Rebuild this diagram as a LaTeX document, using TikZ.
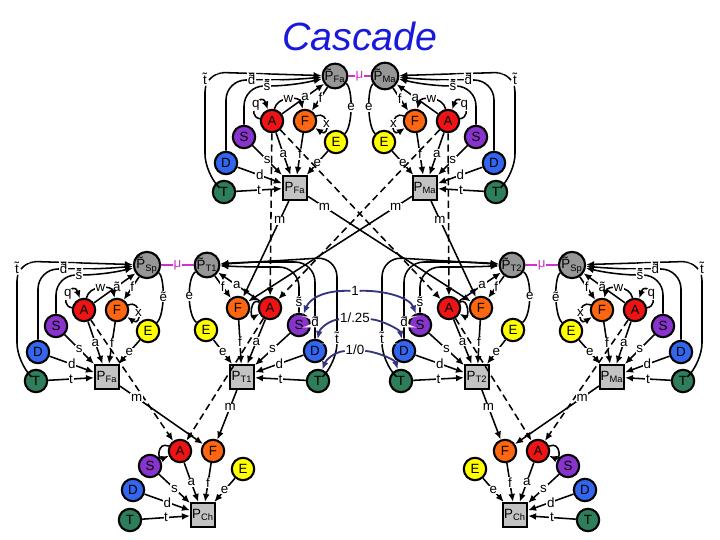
\documentclass[tikz,border=0pt]{standalone}
\usepackage{fontspec}
\setmainfont{Liberation Sans}
\usetikzlibrary{arrows.meta}

\definecolor{nodeA}{RGB}{238,20,20}
\definecolor{nodeF}{RGB}{255,102,17}
\definecolor{nodeS}{RGB}{136,51,204}
\definecolor{nodeE}{RGB}{255,255,0}
\definecolor{nodeD}{RGB}{51,102,238}
\definecolor{nodeT}{RGB}{46,125,91}
\definecolor{pgray}{RGB}{150,150,150}
\definecolor{bgray}{RGB}{195,195,195}
\definecolor{mulink}{RGB}{204,51,204}
\definecolor{navy}{RGB}{51,51,128}
\definecolor{ttl}{RGB}{25,25,220}

\newcommand{\lblfont}{\fontsize{9.5}{10}\selectfont}

\tikzstyle{vertex}=[circle,draw,line width=1.5pt,minimum size=5.6mm,inner sep=0pt,font=\lblfont]
\tikzstyle{pvertex}=[circle,draw,line width=1.5pt,fill=pgray,minimum size=6.2mm,inner sep=0pt,font=\lblfont]
\tikzstyle{pbox}=[rectangle,draw,line width=1.5pt,fill=bgray,minimum size=6mm,inner sep=0pt,font=\lblfont]
\tikzstyle{arr}=[-{Latex[length=2mm,width=1.7mm]},line width=1.1pt]
\tikzstyle{plainline}=[line width=1.1pt]
\tikzstyle{dlink}=[arr,dash pattern=on 5pt off 3pt]
\tikzstyle{mate}=[mulink,line width=1.5pt]
\tikzstyle{warr}=[-{Latex[length=2mm,width=1.7mm]},navy,line width=1.3pt]
\tikzstyle{lbl}=[fill=white,inner sep=0.5pt,font=\lblfont]

% parent cluster: prefix, shift, xscale, circle sub, box sub, a label, e label
\newcommand{\parentfamily}[7]{%
  \begin{scope}[shift={#2},xscale=#3]
    \foreach \pos/\name/\col in {{(-23,-67)/A/nodeA}, {(10,-67)/F/nodeF}, {(-51,-51)/S/nodeS}, {(41,-46)/E/nodeE}, {(-69,-25)/D/nodeD}, {(-71,4)/T/nodeT}}
      \node[vertex,fill=\col] (#1\name) at \pos {\name};
    \node[pvertex] (#1cir) at (40,-112) {\~{P}\textsubscript{#4}};
    \node[pbox] (#1box) at (0,0) {P\textsubscript{#5}};
    \foreach \source/\weight in {A/a, F/f, E/e, S/s, D/d, T/t}
      \draw[arr] (#1\source) -- node[lbl]{\weight} (#1box);
    \draw[arr,rounded corners=5mm] (#1T) -- (-90,-14) -- node[lbl,pos=0.93]{\~{t}} (-90,-116) -- (#1cir);
    \draw[arr,rounded corners=5mm] (#1D) |- node[lbl,pos=0.7]{\~{d}} (-5,-108) -- (#1cir);
    \draw[arr,rounded corners=5mm] (#1S) |- node[lbl,pos=0.75]{\~{s}} (-5,-102) -- (#1cir);
    \draw[arr] (#1A) -- node[lbl,pos=0.55]{#6} (#1cir);
    \draw[arr] (#1cir) -- node[lbl,pos=0.45]{f} (#1F);
    \draw[plainline] (#1cir) .. controls (58,-100) and (58,-62) .. node[lbl]{#7} (#1E);
    \draw[arr] (#1A) .. controls (-18,-92) and (5,-92) .. node[lbl]{w} (#1F);
    \draw[arr] (#1A) .. controls (-50,-72) and (-34,-98) .. node[lbl]{q} (#1A);
    \draw[arr] (#1F) .. controls (35,-78) and (35,-50) .. node[lbl]{x} (#1F);
  \end{scope}}

% child cluster: prefix, shift, xscale, circle sub, box sub
\newcommand{\childfamily}[5]{%
  \begin{scope}[shift={#2},xscale=#3]
    \foreach \pos/\name/\col in {{(-4,-69)/F/nodeF}, {(28,-69)/A/nodeA}, {(-36,-47)/E/nodeE}, {(57,-52)/S/nodeS}, {(73,-26)/D/nodeD}, {(76,4)/T/nodeT}}
      \node[vertex,fill=\col] (#1\name) at \pos {\name};
    \node[pvertex] (#1cir) at (-35,-112) {\~{P}\textsubscript{#4}};
    \node[pbox] (#1box) at (0,0) {P\textsubscript{#5}};
    \foreach \source/\weight in {A/a, F/f, E/e, S/s, D/d, T/t}
      \draw[arr] (#1\source) -- node[lbl]{\weight} (#1box);
    \draw[arr,rounded corners=5mm] (#1T) -- (95,-14) -- node[lbl,pos=0.24]{\~{t}} (95,-120) -- (#1cir);
    \draw[arr,rounded corners=5mm] (#1D) |- node[lbl,pos=0.11]{\~{d}} (0,-115) -- (#1cir);
    \draw[arr,rounded corners=5mm] (#1S) |- node[lbl,pos=0.12]{\~{s}} (0,-110) -- (#1cir);
    \draw[arr] (#1A) -- node[lbl,pos=0.55]{a} (#1cir);
    \draw[arr] (#1cir) -- node[lbl,pos=0.5]{f} (#1F);
    \draw[plainline] (#1cir) .. controls (-55,-100) and (-55,-62) .. node[lbl]{e} (#1E);
    \draw[arr] (#1A) .. controls (8,-80) and (8,-58) .. (#1A);
  \end{scope}}

% grandchild cluster: prefix, shift, xscale
\newcommand{\kidfamily}[3]{%
  \begin{scope}[shift={#2},xscale=#3]
    \foreach \pos/\name/\col in {{(-23,-64)/A/nodeA}, {(10,-64)/F/nodeF}, {(-53,-49)/S/nodeS}, {(40,-46)/E/nodeE}, {(-70,-25)/D/nodeD}, {(-73,5)/T/nodeT}}
      \node[vertex,fill=\col] (#1\name) at \pos {\name};
    \node[pbox] (#1box) at (0,0) {P\textsubscript{Ch}};
    \foreach \source/\weight in {A/a, F/f, E/e, S/s, D/d, T/t}
      \draw[arr] (#1\source) -- node[lbl]{\weight} (#1box);
    \draw[arr] (#1A) .. controls (-46,-74) and (-46,-54) .. (#1A);
  \end{scope}}

\begin{document}
\begin{tikzpicture}[x=0.25mm,y=-0.25mm]
\useasboundingbox (0,0) rectangle (720,540);

\node[font=\fontsize{28}{30}\selectfont\itshape,text=ttl] (title) at (360,36) {Cascade};

\parentfamily{fa}{(295,188)}{1}{Fa}{Fa}{a}{e}
\parentfamily{ma}{(425,188)}{-1}{Ma}{Ma}{a}{e}
\parentfamily{lf}{(107,377)}{1}{Sp}{Fa}{\~{a}}{\~{e}}
\parentfamily{rm}{(612,377)}{-1}{Sp}{Ma}{\~{a}}{\~{e}}
\childfamily{ta}{(242,377)}{1}{T1}{T1}
\childfamily{tb}{(477,377)}{-1}{T2}{T2}
\kidfamily{cl}{(203,515)}{1}
\kidfamily{cr}{(515,515)}{-1}

% mates
\foreach \source/\dest in {facir/macir, lfcir/tacir, tbcir/rmcir}
  \draw[mate] (\source) -- node[lbl]{μ} (\dest);

% inheritance
\foreach \source/\dest in {faA/taA, faA/tbA, maA/taA, maA/tbA, lfA/clA, taA/clA, tbA/crA, rmA/crA}
  \draw[dlink] (\source) -- (\dest);
\foreach \source/\dest/\p in {fabox/taF/0.2, fabox/tbF/0.1, mabox/taF/0.1, mabox/tbF/0.2, lfbox/clF/0.2, tabox/clF/0.35, tbbox/crF/0.35, rmbox/crF/0.2}
  \draw[arr] (\source) -- node[lbl,pos=\p]{m} (\dest);

% weights
\node[lbl] (wone) at (355,291) {1};
\node[lbl] (wtwo) at (355,318) {1/.25};
\node[lbl] (wthree) at (355,350) {1/0};
\draw[warr] (wone) .. controls (325,290) and (310,298) .. (taS);
\draw[warr] (wone) .. controls (385,290) and (410,298) .. (tbS);
\draw[warr] (wtwo) .. controls (330,320) and (320,328) .. (taD);
\draw[warr] (wtwo) .. controls (382,320) and (400,330) .. (tbD);
\draw[warr] (wthree) .. controls (334,352) and (326,360) .. (taT);
\draw[warr] (wthree) .. controls (378,352) and (395,360) .. (tbT);

\end{tikzpicture}
\end{document}
